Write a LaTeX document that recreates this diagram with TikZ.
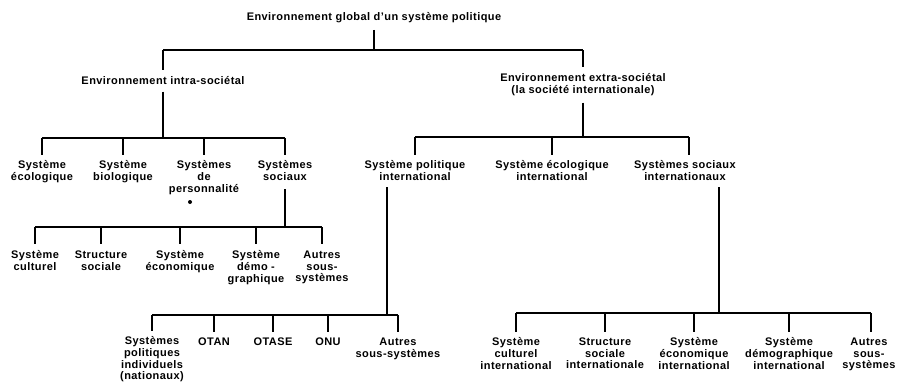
\documentclass[tikz,border=0pt]{standalone}
\usepackage{fontspec}
\setmainfont{Liberation Sans}[LetterSpace=4]
\usetikzlibrary{calc}
\begin{document}
\begin{tikzpicture}[x=1pt, y=-1pt, line width=1.5pt,
  lbl/.style={font=\fontsize{11}{11.7}\selectfont\bfseries, align=center, inner sep=0pt, anchor=north}]
\useasboundingbox (0,0) rectangle (898,383);
\coordinate (barA) at (0,50);
\coordinate (barB) at (0,138);
\coordinate (barC) at (0,137);
\coordinate (barD) at (0,227);
\coordinate (barE) at (0,315);
\coordinate (barF) at (0,313);
\node [lbl] (root) at (374,12) {Environnement global d'un système politique};
\node [lbl] (intra) at (163,76) {Environnement intra-sociétal};
\node [lbl] (extra) at (583,73) {Environnement extra-sociétal\\(la société internationale)};
\node [lbl] (eco) at (42,160) {Système\\écologique};
\node [lbl] (bio) at (123,160) {Système\\biologique};
\node [lbl] (pers) at (204,160) {Systèmes\\de\\personnalité};
\node [lbl] (soc) at (285,160) {Systèmes\\sociaux};
\node [lbl] (polint) at (415,160) {Système politique\\international};
\node [lbl] (ecoint) at (552,160) {Système écologique\\international};
\node [lbl] (socint) at (685,160) {Systèmes sociaux\\internationaux};
\node [lbl] (cult) at (35,250) {Système\\culturel};
\node [lbl] (struct) at (101,250) {Structure\\sociale};
\node [lbl] (econ) at (180,250) {Système\\économique};
\node [lbl] (demo) at (256,250) {Système\\démo -\\graphique};
\node [lbl] (autresA) at (322,250) {Autres\\sous-\\systèmes};
\node [lbl] (indiv) at (152,336) {Systèmes\\politiques\\individuels\\(nationaux)};
\node [lbl] (otan) at (214,337) {OTAN};
\node [lbl] (otase) at (273,337) {OTASE};
\node [lbl] (onu) at (328,337) {ONU};
\node [lbl] (autresB) at (398,337) {Autres\\sous-systèmes};
\node [lbl] (culti) at (516,337) {Système\\culturel\\international};
\node [lbl] (structi) at (605,337) {Structure\\sociale\\internationale};
\node [lbl] (econi) at (694,337) {Système\\économique\\international};
\node [lbl] (demoi) at (789,337) {Système\\démographique\\international};
\node [lbl] (autresC) at (869,337) {Autres\\sous-\\systèmes};
\draw ([yshift=-6pt]root.south) -- (root.south |- barA);
\draw (intra.north |- barA) -- (extra.north |- barA);
\foreach \n in {intra,extra}
  \draw (\n.north |- barA) -- ([yshift=6pt]\n.north);
\draw ([yshift=-6pt]intra.south) -- (intra.south |- barB);
\draw (eco.north |- barB) -- (soc.north |- barB);
\foreach \n in {eco,bio,pers,soc}
  \draw (\n.north |- barB) -- ([yshift=5pt]\n.north);
\draw ([yshift=-6pt]extra.south) -- (extra.south |- barC);
\draw (polint.north |- barC) -- ([xshift=4pt]socint.north |- barC);
\foreach \n in {polint,ecoint}
  \draw (\n.north |- barC) -- ([yshift=5pt]\n.north);
\draw ([xshift=4pt]socint.north |- barC) -- ([xshift=4pt,yshift=5pt]socint.north);
\draw ([yshift=-8pt]soc.south) -- (soc.south |- barD);
\draw (cult.north |- barD) -- (autresA.north |- barD);
\foreach \n in {cult,struct,econ,demo,autresA}
  \draw (\n.north |- barD) -- ([yshift=6pt]\n.north);
\draw ([xshift=-28pt,yshift=-6pt]polint.south) -- ([xshift=-28pt]polint.south |- barE);
\draw (indiv.north |- barE) -- (autresB.north |- barE);
\foreach \n in {indiv,otan,otase,onu,autresB}
  \draw (\n.north |- barE) -- ([yshift=5pt]\n.north);
\draw ([xshift=34pt,yshift=-6pt]socint.south) -- ([xshift=34pt]socint.south |- barF);
\draw (culti.north |- barF) -- ([xshift=2pt]autresC.north |- barF);
\foreach \n in {culti,structi,econi,demoi}
  \draw (\n.north |- barF) -- ([yshift=5pt]\n.north);
\draw ([xshift=2pt]autresC.north |- barF) -- ([xshift=2pt,yshift=5pt]autresC.north);
\fill (190,202) circle (2pt);
\end{tikzpicture}
\end{document}
